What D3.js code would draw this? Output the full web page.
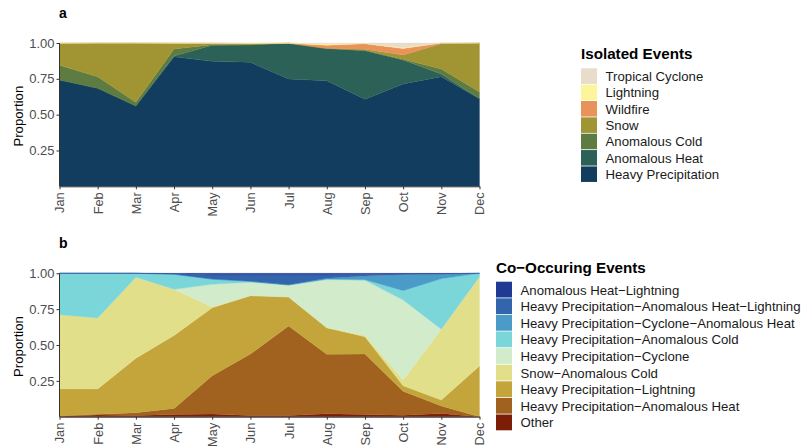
<!DOCTYPE html>
<html>
<head>
<meta charset="utf-8">
<script src="https://cdn.jsdelivr.net/npm/d3@7"></script>
<style>
  body { margin: 0; background: #fff; }
  svg text { font-family: "Liberation Sans", Arial, sans-serif; }
</style>
</head>
<body>
<div id="chart"></div>
<script>
// months
const months = ["Jan","Feb","Mar","Apr","May","Jun","Jul","Aug","Sep","Oct","Nov","Dec"];
const yTicks = [0.25, 0.5, 0.75, 1.0];

// panel a: isolated events (bottom -> top)
const isoKeys = ["Heavy Precipitation","Anomalous Heat","Anomalous Cold","Snow","Wildfire","Lightning","Tropical Cyclone"];
const isoColors = ["#133d5e","#2c6158","#5e7c42","#a09433","#e8935a","#fdf59a","#e8dccb"];
const heavyPrecip   = [0.742,0.684,0.560,0.904,0.872,0.865,0.749,0.735,0.607,0.714,0.765,0.611];
const anomHeat      = [0,    0,    0,    0.005,0.113,0.121,0.249,0.225,0.339,0.167,0.019,0];
const anomCold      = [0.102,0.081,0.026,0.050,0.003,0.002,0,    0,    0.003,0.005,0.034,0.047];
const snow          = [0.154,0.235,0.414,0.040,0.010,0.008,0,    0,    0.008,0.030,0.177,0.342];
const wildfire      = [0.001,0,    0,    0,    0,    0,    0,    0.022,0.038,0.045,0.005,0];
const lightning     = [0.001,0,    0,    0.001,0.002,0.004,0.002,0.010,0.002,0.005,0,    0];
const tropCyclone   = [0,    0,    0,    0,    0,    0,    0,    0.006,0.003,0.034,0,    0];
const isoSeries = [heavyPrecip, anomHeat, anomCold, snow, wildfire, lightning, tropCyclone];

// panel b: co-occurring events (bottom -> top)
const coKeys = ["Other","Heavy Precipitation\u2212Anomalous Heat","Heavy Precipitation\u2212Lightning","Snow\u2212Anomalous Cold",
  "Heavy Precipitation\u2212Cyclone","Heavy Precipitation\u2212Anomalous Cold","Heavy Precipitation\u2212Cyclone\u2212Anomalous Heat",
  "Heavy Precipitation\u2212Anomalous Heat\u2212Lightning","Anomalous Heat\u2212Lightning"];
const coColors = ["#7b1d07","#a0621e","#c4a53b","#e2df8a","#d2ebca","#7bd6da","#4a9bc8","#3365ad","#1f3a93"];
const other        = [0.003,0.012,0.008,0.015,0.018,0.008,0.008,0.020,0.015,0.010,0.022,0];
const hpAnomHeat   = [0.002,0.005,0.020,0.043,0.268,0.429,0.625,0.415,0.422,0.167,0.053,0];
const hpLightning  = [0.190,0.176,0.379,0.509,0.474,0.407,0.202,0.185,0.121,0.039,0.041,0.354];
const snowCold     = [0.516,0.495,0.565,0.321,0.005,0,    0,    0,    0.007,0.040,0.494,0.622];
const hpCyclone    = [0,    0,    0,    0,    0.158,0.093,0.083,0.335,0.386,0.558,0,    0];
const hpAnomCold   = [0.289,0.312,0.028,0.105,0.035,0.005,0,    0.005,0.004,0.065,0.352,0.024];
const hpCycHeat    = [0,    0,    0,    0,    0.002,0.003,0.002,0.005,0.027,0.113,0.035,0];
const hpHeatLight  = [0,    0,    0,    0.005,0.030,0.045,0.070,0.025,0.010,0.003,0,    0];
const heatLight    = [0,    0,    0,    0.002,0.010,0.010,0.010,0.010,0.008,0.005,0.003,0];
const coSeries = [other, hpAnomHeat, hpLightning, snowCold, hpCyclone, hpAnomCold, hpCycHeat, hpHeatLight, heatLight];

const width = 803, height = 447;
const svg = d3.select("#chart").append("svg")
  .attr("width", width)
  .attr("height", height);

const x = d3.scalePoint().domain(months).range([59.5, 479.5]);

function drawPanel(label, top, bottom, keys, colors, series, legendTitle, lx, ly, lw) {
  const y = d3.scaleLinear().domain([0, 1]).range([bottom, top]);

  // build table for d3.stack
  const table = months.map((m, i) => {
    const row = { month: m };
    keys.forEach((k, j) => { row[k] = series[j][i]; });
    return row;
  });
  const stacked = d3.stack().keys(keys).offset(d3.stackOffsetExpand)(table);

  const area = d3.area()
    .x(d => x(d.data.month))
    .y0(d => y(d[0]))
    .y1(d => y(d[1]));

  const g = svg.append("g");
  g.selectAll("path.layer")
    .data(stacked)
    .enter()
    .append("path")
    .attr("class", "layer")
    .attr("d", area)
    .attr("fill", (d, i) => colors[i])
    .attr("stroke", (d, i) => colors[i])
    .attr("stroke-width", 0.3);

  // y axis
  const yAxis = g.append("g")
    .attr("transform", "translate(59.5,0)")
    .call(d3.axisLeft(y).tickValues(yTicks).tickFormat(d3.format(".2f")).tickSize(3).tickSizeOuter(0));
  yAxis.select(".domain").attr("stroke", "#333").attr("d", "M0," + top + "V" + bottom);
  yAxis.selectAll(".tick line").attr("stroke", "#333");
  yAxis.selectAll(".tick text").attr("fill", "#4d4d4d").style("font-size", "13px").attr("x", -5);

  // x axis
  const xAxis = g.append("g")
    .attr("transform", "translate(0," + bottom + ")")
    .call(d3.axisBottom(x).tickSize(3).tickSizeOuter(0));
  xAxis.select(".domain").attr("stroke", "#333");
  xAxis.selectAll(".tick line").attr("stroke", "#333");
  xAxis.selectAll(".tick text")
    .attr("fill", "#4d4d4d")
    .style("font-size", "12.8px")
    .attr("transform", "rotate(-90)")
    .attr("x", -6)
    .attr("y", 0)
    .attr("dy", "0.35em")
    .attr("text-anchor", "end");

  // labels
  svg.append("text")
    .text("Proportion")
    .attr("transform", "translate(23," + ((top + bottom) / 2 + 1.5) + ") rotate(-90)")
    .attr("text-anchor", "middle")
    .style("font-size", "13.2px")
    .attr("fill", "#000");

  svg.append("text")
    .text(label)
    .attr("x", 59)
    .attr("y", top - 25)
    .style("font-size", "14px")
    .style("font-weight", "bold");

  // legend (top item = top layer)
  svg.append("text")
    .text(legendTitle)
    .attr("x", lx)
    .attr("y", ly - 9)
    .style("font-size", "15.2px")
    .style("font-weight", "bold");

  const rev = keys.map((k, i) => ({ key: k, color: colors[i] })).reverse();
  const item = svg.append("g").selectAll("g")
    .data(rev)
    .enter()
    .append("g")
    .attr("transform", (d, i) => "translate(" + lx + "," + (ly + i * lw) + ")");
  item.append("rect")
    .attr("width", 16)
    .attr("height", lw - 0.8)
    .attr("fill", d => d.color);
  item.append("text")
    .text(d => d.key)
    .attr("x", 24.5)
    .attr("y", lw / 2)
    .attr("dy", "0.35em")
    .style("font-size", "13.2px")
    .attr("fill", "#1a1a1a");
}

drawPanel("a", 43, 186.3, isoKeys, isoColors, isoSeries, "Isolated Events", 581, 68.3, 16.35);
drawPanel("b", 273.3, 416.7, coKeys, coColors, coSeries, "Co\u2212Occuring Events", 496, 281.7, 16.6);
</script>
</body>
</html>
